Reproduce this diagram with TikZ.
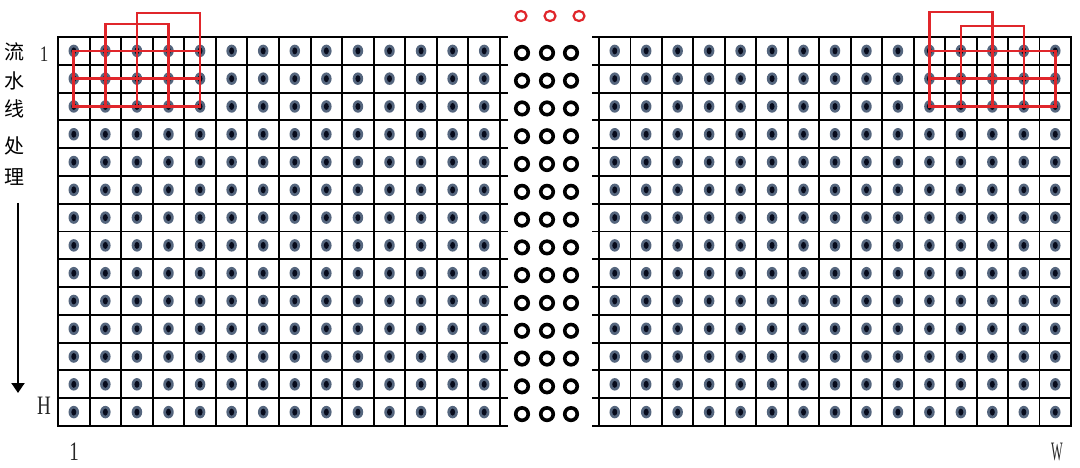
\documentclass[tikz,border=0pt]{standalone}
\usepackage{fontspec}
\setmainfont{Liberation Serif}
\newfontfamily\cjk{Noto Sans CJK SC}
\usetikzlibrary{arrows.meta,shapes.geometric}
\definecolor{dotrim}{HTML}{55667E}
\definecolor{dotcore}{HTML}{070B1C}
\definecolor{pipered}{HTML}{E0262B}
\begin{document}
\begin{tikzpicture}[x=1pt,y=-1pt,
  gridline/.style={line width=1.9pt, black, line cap=rect},
  dot/.style={ellipse, minimum width=10.5pt, minimum height=12.5pt, inner sep=0pt, fill=dotrim,
    path picture={\fill[dotcore] (path picture bounding box.center) ellipse (2.5pt and 3.5pt);}},
  ring/.style={circle, draw=black, line width=3.6pt, minimum size=12.5pt, inner sep=0pt},
  redring/.style={ellipse, draw=pipered, line width=2.2pt, minimum width=11pt, minimum height=10pt, inner sep=0pt},
  redline/.style={draw=pipered, line width=2.6pt, line cap=rect},
  lab/.style={font=\fontsize{17}{17}\selectfont, text=black!85, inner sep=0pt, yscale=1.3, transform shape},
  biglab/.style={font=\fontsize{19}{19}\selectfont, text=black!85, inner sep=0pt, yscale=1.4, transform shape},
  cjklab/.style={font=\cjk\fontsize{20}{20}\selectfont, inner sep=0pt},
  flow/.style={line width=2pt, -{Triangle[length=10pt,width=13pt]}}
]
\useasboundingbox (0,0) rectangle (1080,468);
\fill[white] (0,0) rectangle (1080,468);
% left grid
\foreach \i in {0,...,14} \draw[gridline] ({58+31.571*\i},37) -- ({58+31.571*\i},426);
\foreach \j in {0,...,14} \draw[gridline] (58,{37+27.786*\j}) -- (507,{37+27.786*\j});
% right grid
\foreach \i in {0,...,15} \draw[gridline] ({599+31.467*\i},37) -- ({599+31.467*\i},426);
\foreach \j in {0,...,14} \draw[gridline] (593,{37+27.786*\j}) -- (1071,{37+27.786*\j});
% dots
\foreach \r in {1,...,14} \foreach \c in {1,...,14}
  \node[dot] (L-\r-\c) at ({58+31.571*(\c-0.5)},{37+27.786*(\r-0.5)}) {};
\foreach \r in {1,...,14} \foreach \c in {1,...,15}
  \node[dot] (R-\r-\c) at ({599+31.467*(\c-0.5)},{37+27.786*(\r-0.5)}) {};
% middle rings
\foreach \r in {1,...,14} \foreach \x [count=\k] in {522,547,571}
  \node[ring] (M-\r-\k) at (\x,{39+27.786*(\r-0.5)}) {};
\node[redring] (red1) at (521,16) {};
\node[redring] (red2) at (550,16) {};
\node[redring] (red3) at (579,16) {};
% red windows left
\coordinate (hiL) at (0,13);
\coordinate (loL) at (0,24);
\draw[redline] (L-1-1.center) -- (L-1-5.center);
\draw[redline] (L-2-1.center) -- (L-2-5.center);
\draw[redline] (L-3-1.center) -- (L-3-5.center);
\draw[redline] (L-1-1.center) -- (L-3-1.center);
\draw[redline] (L-3-2.center) -- (L-3-2.center |- loL) -| (L-3-4.center);
\draw[redline] (L-3-3.center) -- (L-3-3.center |- hiL) -| (L-3-5.center);
% red windows right
\coordinate (hiR) at (0,12);
\coordinate (loR) at (0,26);
\draw[redline] (R-1-11.center) -- (R-1-15.center);
\draw[redline] (R-2-11.center) -- (R-2-15.center);
\draw[redline] (R-3-11.center) -- (R-3-15.center);
\draw[redline] (R-1-15.center) -- (R-3-15.center);
\draw[redline] (R-3-11.center) -- (R-3-11.center |- hiR) -| (R-3-13.center);
\draw[redline] (R-3-12.center) -- (R-3-12.center |- loR) -| (R-3-14.center);
% labels
\node[lab] (onetop) at (44,54) {1};
\node[biglab] (hlab) at (44,406) {H};
\node[biglab] (onebot) at (74,452) {1};
\node[biglab, xscale=0.65] (wlab) at (1057,452) {W};
\node[cjklab] (c1) at (15,52) {流};
\node[cjklab] (c2) at (15,81) {水};
\node[cjklab] (c3) at (15,109) {线};
\node[cjklab] (c4) at (15,146) {处};
\node[cjklab] (c5) at (15,177) {理};
\coordinate (fa) at (18,203);
\coordinate (fb) at (18,393);
\draw[flow] (fa) -- (fb);
\end{tikzpicture}
\end{document}
